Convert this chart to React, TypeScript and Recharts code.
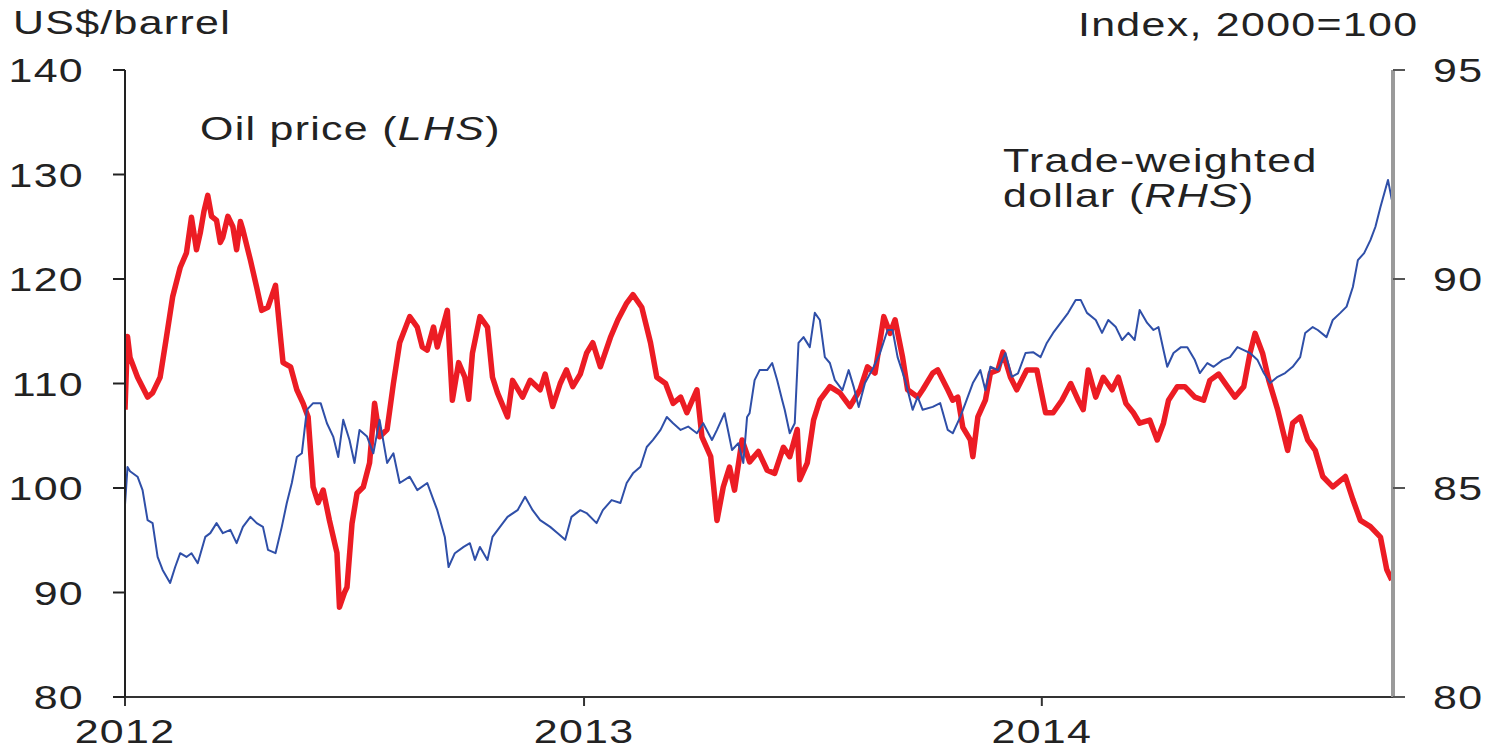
import { LineChart, Line, XAxis, YAxis } from "recharts";

// x values are days since 1 Jan 2012
const oilDays = [
  0, 2, 4, 10, 18, 22, 28, 33, 38, 44,
  49, 53, 57, 60, 63, 66, 69, 73, 76, 78,
  82, 86, 89, 92, 94, 100, 105, 109, 114, 120,
  124, 126, 132, 137, 142, 146, 150, 154, 158, 163,
  169, 171, 175, 177, 181, 185, 190, 195, 199, 203,
  209, 214, 219, 227, 233, 237, 241, 246, 249, 257,
  261, 266, 271, 274, 277, 283, 289, 293, 297, 305,
  309, 317, 323, 331, 335, 341, 347, 352, 357, 363,
  368, 373, 379, 387, 393, 400, 405, 412, 419, 424,
  431, 437, 443, 448, 456, 460, 467, 472, 477, 482,
  486, 492, 498, 505, 512, 518, 525, 530, 536, 538,
  544, 549, 554, 562, 570, 578, 586, 592, 598, 605,
  610, 614, 620, 624, 632, 636, 644, 648, 656, 660,
  664, 668, 674, 676, 680, 686, 690, 696, 700, 706,
  711, 719, 727, 734, 740, 747, 754, 760, 764, 768,
  774, 780, 787, 792, 798, 804, 809, 817, 823, 828,
  832, 839, 845, 853, 860, 865, 872, 879, 885, 892,
  897, 901, 907, 912, 919, 927, 931, 937, 943, 949,
  955, 963, 973, 979, 985, 993, 1001, 1006, 1010,
];

// Oil price, US$/barrel (LHS)
const oilPrice = [
  107.5, 114.5, 112.5, 110.6, 108.7, 109.1, 110.6, 114.4, 118.3, 121.1,
  122.5, 125.9, 122.8, 124.4, 126.5, 128.0, 126.0, 125.6, 123.5, 124.0,
  126.0, 125.0, 122.8, 125.5, 124.7, 121.8, 119.2, 117.0, 117.3, 119.4,
  114.4, 112.0, 111.6, 109.4, 108.1, 106.8, 100.1, 98.6, 99.8, 96.9,
  93.8, 88.6, 90.0, 90.5, 96.6, 99.5, 100.1, 102.4, 108.1, 104.9,
  105.6, 110.0, 113.9, 116.4, 115.4, 113.5, 113.2, 115.4, 113.5, 117.0,
  108.4, 112.0, 110.6, 108.5, 112.9, 116.4, 115.4, 110.6, 109.1, 106.8,
  110.3, 108.7, 110.3, 109.4, 110.9, 107.8, 110.0, 111.3, 109.7, 110.9,
  112.9, 113.9, 111.6, 114.4, 116.1, 117.7, 118.5, 117.3, 113.9, 110.6,
  110.0, 108.1, 108.7, 107.2, 109.4, 104.9, 103.0, 96.9, 100.1, 102.0,
  99.8, 104.6, 102.5, 103.5, 101.7, 101.4, 103.9, 103.0, 105.6, 100.8,
  102.4, 106.5, 108.4, 109.7, 109.1, 107.8, 109.4, 111.6, 111.0, 116.4,
  114.8, 116.1, 112.5, 109.4, 108.7, 109.4, 111.0, 111.3, 109.4, 108.4,
  108.7, 105.8, 104.6, 103.0, 106.8, 108.4, 111.0, 111.3, 113.0, 110.6,
  109.4, 111.3, 111.3, 107.2, 107.2, 108.4, 110.0, 108.4, 107.5, 111.3,
  108.7, 110.6, 109.4, 110.6, 108.1, 107.2, 106.2, 106.5, 104.6, 106.2,
  108.4, 109.7, 109.7, 108.7, 108.4, 110.3, 110.9, 109.7, 108.7, 109.7,
  112.9, 114.8, 112.9, 110.3, 107.5, 103.6, 106.2, 106.8, 104.6, 103.6,
  101.1, 100.1, 101.1, 98.9, 96.9, 96.3, 95.3, 92.2, 91.2,
];

const usdDays = [
  0, 2, 4, 10, 14, 18, 22, 26, 30, 36,
  40, 44, 49, 53, 58, 64, 68, 73, 78, 84,
  89, 94, 100, 105, 110, 114, 120, 125, 129, 133,
  137, 141, 145, 150, 156, 161, 166, 170, 174, 179,
  183, 187, 193, 198, 203, 209, 214, 219, 227, 233,
  241, 246, 249, 255, 258, 263, 270, 275, 279, 283,
  289, 293, 299, 305, 313, 319, 325, 331, 339, 345,
  351, 356, 363, 368, 376, 381, 388, 395, 400, 405,
  411, 416, 421, 427, 432, 437, 443, 449, 456, 461,
  468, 472, 478, 484, 489, 493, 496, 498, 502, 506,
  512, 516, 520, 524, 526, 530, 534, 537, 541, 546,
  550, 554, 558, 562, 566, 572, 577, 581, 585, 590,
  597, 602, 608, 612, 616, 622, 628, 632, 636, 644,
  650, 656, 660, 666, 671, 676, 682, 686, 690, 696,
  702, 707, 712, 718, 724, 730, 735, 740, 746, 752,
  758, 762, 767, 774, 779, 784, 790, 795, 800, 805,
  809, 815, 820, 824, 828, 831, 836, 842, 847, 853,
  857, 863, 868, 875, 881, 887, 892, 897, 903, 908,
  913, 919, 925, 931, 937, 941, 947, 951, 958, 963,
  969, 974, 979, 983, 988, 993, 997, 1001, 1007, 1009,
  1010,
];

// Trade-weighted dollar, index 2000=100 (RHS)
const usdIndex = [
  84.6, 85.5, 85.4, 85.27, 84.95, 84.23, 84.16, 83.35, 83.04, 82.73,
  83.11, 83.44, 83.35, 83.44, 83.2, 83.83, 83.92, 84.16, 83.92, 84.0,
  83.68, 84.07, 84.31, 84.16, 84.07, 83.52, 83.44, 84.07, 84.64, 85.12,
  85.74, 85.83, 86.87, 87.03, 87.03, 86.55, 86.23, 85.74, 86.63, 86.15,
  85.6, 86.39, 86.23, 85.83, 86.63, 85.6, 85.83, 85.12, 85.27, 84.95,
  85.12, 84.71, 84.47, 83.83, 83.11, 83.44, 83.59, 83.68, 83.28, 83.59,
  83.28, 83.83, 84.07, 84.31, 84.47, 84.79, 84.47, 84.23, 84.07, 83.92,
  83.76, 84.31, 84.47, 84.4, 84.16, 84.47, 84.71, 84.64, 85.12, 85.35,
  85.51, 85.98, 86.15, 86.39, 86.7, 86.55, 86.39, 86.47, 86.31, 86.55,
  86.15, 86.39, 86.79, 85.91, 86.07, 85.6, 86.7, 86.79, 87.58, 87.82,
  87.82, 87.99, 87.58, 87.1, 86.87, 86.31, 86.55, 88.47, 88.61, 88.37,
  89.19, 89.02, 88.13, 87.99, 87.58, 87.34, 87.82, 87.42, 86.94, 87.51,
  87.9, 88.23, 88.78, 88.78, 88.13, 87.58, 86.87, 87.18, 86.87, 86.94,
  87.03, 86.39, 86.31, 86.7, 87.1, 87.51, 87.82, 87.34, 87.9, 87.82,
  88.23, 87.66, 87.74, 88.23, 88.25, 88.13, 88.47, 88.71, 88.95, 89.19,
  89.5, 89.5, 89.19, 89.02, 88.71, 89.02, 88.85, 88.54, 88.71, 88.54,
  89.26, 88.95, 88.78, 88.85, 88.3, 87.9, 88.23, 88.37, 88.37, 88.06,
  87.75, 87.99, 87.9, 88.06, 88.13, 88.37, 88.3, 88.23, 88.06, 87.75,
  87.51, 87.66, 87.75, 87.9, 88.13, 88.71, 88.85, 88.78, 88.61, 89.02,
  89.19, 89.34, 89.81, 90.45, 90.62, 90.93, 91.25, 91.72, 92.37, 92.06,
  91.9,
];

const yearTicks = [0, 366, 731];
const yearLabels = ["2012", "2013", "2014"];
const leftTicks = [80, 90, 100, 110, 120, 130, 140];
const rightTicks = [80, 85, 90, 95];

const oilData = oilDays.map((d, i) => ({ d, v: oilPrice[i] }));
const usdData = usdDays.map((d, i) => ({ d, v: usdIndex[i] }));

const FONT = "'Liberation Sans', Arial, sans-serif";
const INK = "#222";
const txt = { fontFamily: FONT, fontSize: 33, letterSpacing: 1, fill: INK };

// the source image is stretched sideways, so every label is widened a bit
const wide = (x: number, y: number) => `translate(${x},${y}) scale(1.3,1)`;

// eslint-disable-next-line @typescript-eslint/no-explicit-any
const LeftTick = ({ x, y, payload }: any) => (
  <text transform={wide(x, y + 12)} textAnchor="end" style={txt}>
    {payload.value}
  </text>
);

// eslint-disable-next-line @typescript-eslint/no-explicit-any
const RightTick = ({ x, y, payload }: any) => (
  <text transform={wide(x, y + 12)} textAnchor="start" style={txt}>
    {payload.value}
  </text>
);

// eslint-disable-next-line @typescript-eslint/no-explicit-any
const YearTick = ({ x, y, payload }: any) => (
  <text transform={wide(x, y + 37)} textAnchor="middle" style={txt}>
    {yearLabels[yearTicks.indexOf(payload.value)]}
  </text>
);

export default function App() {
  return (
    <div style={{ position: "fixed", left: 0, top: 0, width: 1491, height: 751, background: "#fff" }}>
      <LineChart width={1491} height={751} margin={{ top: 70, right: 0, bottom: 0, left: 0 }}>
        <XAxis
          type="number"
          dataKey="d"
          domain={[0, 1011]}
          ticks={yearTicks}
          interval={0}
          allowDataOverflow
          height={54}
          tickSize={9}
          tickMargin={0}
          axisLine={{ stroke: "#333", strokeWidth: 2 }}
          tickLine={{ stroke: "#333", strokeWidth: 2 }}
          tick={<YearTick />}
        />
        <YAxis
          yAxisId="oil"
          domain={[80, 140]}
          ticks={leftTicks}
          interval={0}
          allowDataOverflow
          width={125}
          tickSize={12}
          tickMargin={29}
          axisLine={{ stroke: "#222", strokeWidth: 2 }}
          tickLine={{ stroke: "#222", strokeWidth: 2 }}
          tick={<LeftTick />}
        />
        <YAxis
          yAxisId="usd"
          orientation="right"
          domain={[80, 95]}
          ticks={rightTicks}
          interval={0}
          allowDataOverflow
          width={98}
          tickSize={12}
          tickMargin={28}
          axisLine={{ stroke: "#9a9a9a", strokeWidth: 4 }}
          tickLine={{ stroke: "#555", strokeWidth: 2 }}
          tick={<RightTick />}
        />
        <Line
          yAxisId="oil"
          data={oilData}
          dataKey="v"
          type="linear"
          stroke="#ec1c24"
          strokeWidth={5.5}
          strokeLinejoin="round"
          dot={false}
          isAnimationActive={false}
        />
        <Line
          yAxisId="usd"
          data={usdData}
          dataKey="v"
          type="linear"
          stroke="#2f4fa8"
          strokeWidth={2}
          strokeLinejoin="round"
          dot={false}
          isAnimationActive={false}
        />
      </LineChart>

      {/* axis units and series labels */}
      <svg
        width={1491}
        height={751}
        style={{ position: "absolute", left: 0, top: 0, pointerEvents: "none" }}
      >
        <text transform={wide(13, 34)} style={txt}>US$/barrel</text>
        <text transform={wide(1078, 36)} style={txt}>Index, 2000=100</text>
        <text transform={wide(200, 140)} style={txt}>
          Oil price (<tspan fontStyle="italic">LHS</tspan>)
        </text>
        <text transform={wide(1003, 172)} style={txt}>Trade-weighted</text>
        <text transform={wide(1003, 207)} style={txt}>
          dollar (<tspan fontStyle="italic">RHS</tspan>)
        </text>
      </svg>
    </div>
  );
}
